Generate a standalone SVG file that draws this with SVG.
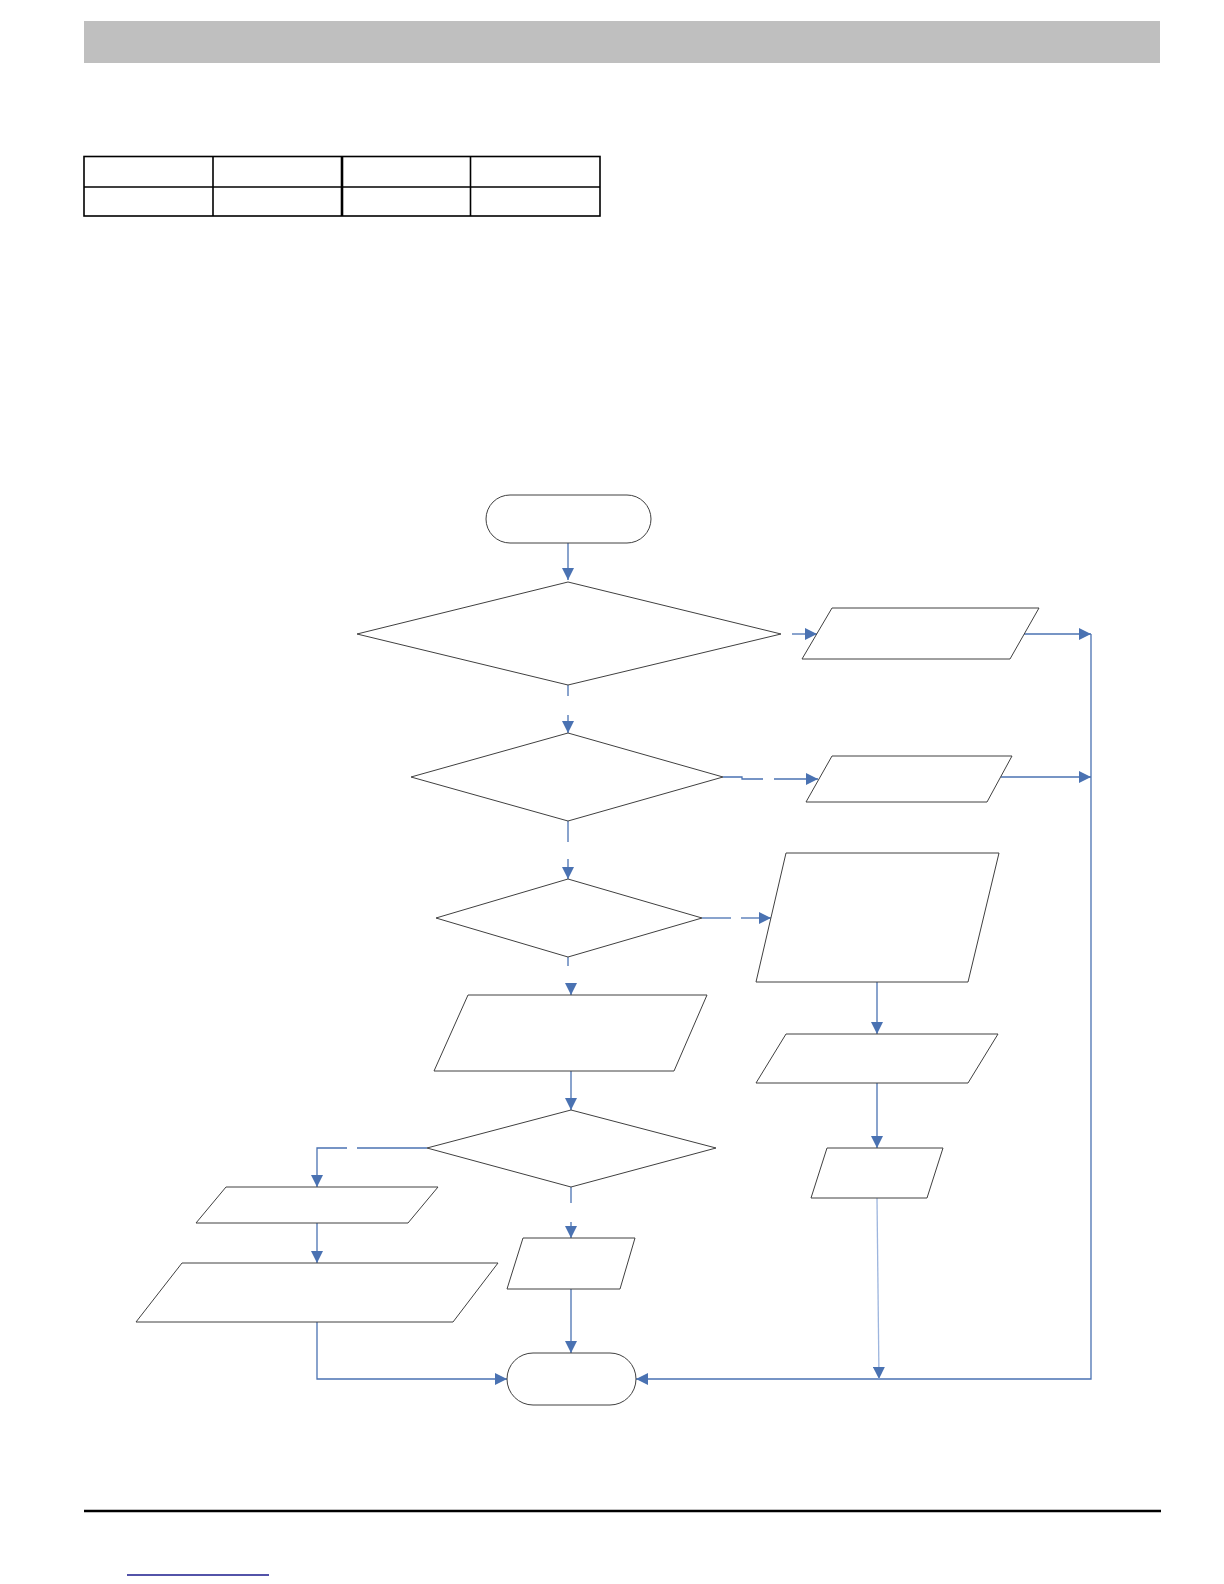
<svg xmlns="http://www.w3.org/2000/svg" width="1224" height="1584" viewBox="0 0 1224 1584">
<style>
.sh{fill:#ffffff;stroke:#404040;stroke-width:1}
.tb{fill:none;stroke:#000000;stroke-width:1.6}
.cn{fill:none;stroke:#4A72B2;stroke-width:1.3}
.cl{fill:none;stroke:#9db5de;stroke-width:1.3}
</style>
<defs>
<marker id="ah" markerUnits="userSpaceOnUse" markerWidth="12" markerHeight="12" refX="12" refY="6" orient="auto">
<path d="M0,0 L12,6 L0,12 Z" fill="#4A72B2"/>
</marker>
</defs>
<rect width="1224" height="1584" fill="#ffffff"/>
<g id="header">
<rect x="84" y="21" width="1076" height="42" fill="#bfbfbf"/>
</g>
<g id="table">
<rect class="tb" x="84" y="156.5" width="516" height="59.5"/>
<line class="tb" x1="84" y1="187" x2="600" y2="187"/>
<line class="tb" x1="213" y1="156.5" x2="213" y2="216"/>
<line x1="342" y1="156.5" x2="342" y2="216" stroke="#000" stroke-width="2.6"/>
<line class="tb" x1="470.5" y1="156.5" x2="470.5" y2="216"/>
</g>
<g id="footer">
<line x1="84" y1="1511" x2="1161" y2="1511" stroke="#000" stroke-width="2.5"/>
<line x1="127" y1="1575" x2="269" y2="1575" stroke="#1a1a8c" stroke-width="1.4"/>
</g>
<g id="connectors">
<path class="cn" d="M568,543 V580" marker-end="url(#ah)"/>
<path class="cn" d="M568,685 V696"/>
<path class="cn" d="M568,715 V733" marker-end="url(#ah)"/>
<path class="cn" d="M792,634 H817" marker-end="url(#ah)"/>
<path class="cn" d="M1024,634 H1091" marker-end="url(#ah)"/>
<path class="cn" d="M723,777 H742 V779 H763"/>
<path class="cn" d="M774,779 H818" marker-end="url(#ah)"/>
<path class="cn" d="M1001,777 H1091" marker-end="url(#ah)"/>
<path class="cn" d="M568,821 V842"/>
<path class="cn" d="M568,859 V879" marker-end="url(#ah)"/>
<path class="cn" d="M702,918 H731"/>
<path class="cn" d="M741,918 H771" marker-end="url(#ah)"/>
<path class="cn" d="M568,957 V966"/>
<path class="cn" d="M571,985 V995" marker-end="url(#ah)"/>
<path class="cn" d="M877,982 V1034" marker-end="url(#ah)"/>
<path class="cn" d="M877,1083 V1148" marker-end="url(#ah)"/>
<path class="cn" d="M571,1071 V1110" marker-end="url(#ah)"/>
<path class="cn" d="M427,1148 H357"/>
<path class="cn" d="M347,1148 H317 V1187" marker-end="url(#ah)"/>
<path class="cn" d="M317,1223 V1263" marker-end="url(#ah)"/>
<path class="cn" d="M571,1187 V1203"/>
<path class="cn" d="M571,1222 V1238" marker-end="url(#ah)"/>
<path class="cn" d="M571,1289 V1353" marker-end="url(#ah)"/>
<path class="cn" d="M317,1322 V1379 H507" marker-end="url(#ah)"/>
<path class="cn" d="M1091,634 V1379 H636" marker-end="url(#ah)"/>
<path class="cl" d="M877,1198 L879,1379" marker-end="url(#ah)"/>
</g>
<g id="start"><rect class="sh" x="486" y="495" width="165" height="48" rx="24" ry="24"/></g>
<g id="decision1"><polygon class="sh" points="568,582 781,634 568,685 357,634"/></g>
<g id="output1"><polygon class="sh" points="832,608 1039,608 1010,659 802,659"/></g>
<g id="decision2"><polygon class="sh" points="568,733 723,777 568,821 411,777"/></g>
<g id="output2"><polygon class="sh" points="832,756 1012,756 987,802 806,802"/></g>
<g id="decision3"><polygon class="sh" points="568,879 702,918 568,957 436,918"/></g>
<g id="output3"><polygon class="sh" points="786,853 999,853 968,982 756,982"/></g>
<g id="output4"><polygon class="sh" points="786,1034 998,1034 968,1083 756,1083"/></g>
<g id="output5"><polygon class="sh" points="827,1148 943,1148 927,1198 811,1198"/></g>
<g id="process1"><polygon class="sh" points="468,995 707,995 674,1071 434,1071"/></g>
<g id="decision4"><polygon class="sh" points="571,1110 716,1148 571,1187 427,1148"/></g>
<g id="output6"><polygon class="sh" points="226,1187 438,1187 408,1223 196,1223"/></g>
<g id="output7"><polygon class="sh" points="182,1263 498,1263 453,1322 136,1322"/></g>
<g id="output8"><polygon class="sh" points="523,1238 635,1238 620,1289 507,1289"/></g>
<g id="end"><rect class="sh" x="507" y="1353" width="129" height="52" rx="26" ry="26"/></g>
</svg>
